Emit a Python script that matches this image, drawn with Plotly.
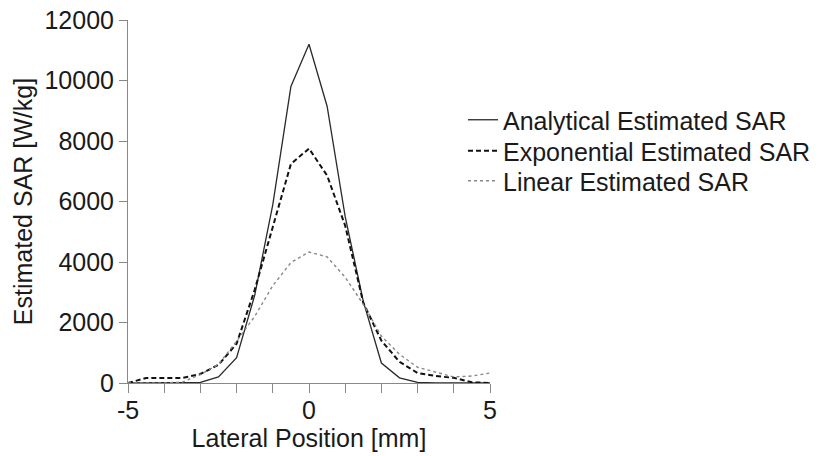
import plotly.graph_objects as go

x_mm = [-5, -4.5, -4, -3.5, -3, -2.5, -2, -1.5, -1, -0.5, 0, 0.5, 1, 1.5, 2, 2.5, 3, 3.5, 4, 4.5, 5]
analytical = [0, 0, 0, 5, 20, 200, 840, 2900, 5900, 9800, 11200, 9150, 5500, 2700, 660, 170, 20, 0, 0, 0, 0]
exponential = [0, 165, 165, 165, 300, 600, 1300, 3080, 5160, 7240, 7750, 6860, 5200, 2650, 1400, 700, 330, 230, 170, 25, 0]
linear = [0, 0, 0, 30, 280, 620, 1380, 2200, 3220, 3980, 4330, 4170, 3500, 2600, 1550, 950, 520, 360, 200, 230, 330]

series_names = ["Analytical Estimated SAR", "Exponential Estimated SAR", "Linear Estimated SAR"]
x_tick_vals = [-5, -4, -3, -2, -1, 0, 1, 2, 3, 4, 5]
x_tick_text = ["-5", "", "", "", "", "0", "", "", "", "", "5"]
y_tick_vals = [0, 2000, 4000, 6000, 8000, 10000, 12000]
y_tick_text = ["0", "2000", "4000", "6000", "8000", "10000", "12000"]

FONT = "Liberation Sans, Arial, sans-serif"
FS = 25

fig = go.Figure()
fig.add_trace(go.Scatter(x=x_mm, y=analytical, name=series_names[0], mode="lines", legend="legend",
                         line=dict(color="#2a2a2a", width=1.3, dash="solid")))
fig.add_trace(go.Scatter(x=x_mm, y=exponential, name=series_names[1], mode="lines", legend="legend2",
                         line=dict(color="#111111", width=2, dash="5px,3px")))
fig.add_trace(go.Scatter(x=x_mm, y=linear, name=series_names[2], mode="lines", legend="legend3",
                         line=dict(color="#888888", width=1.4, dash="dot")))

def leg(yc):
    return dict(x=463 / 828, xref="container", y=1 - yc / 456, yref="container",
                xanchor="left", yanchor="middle", font=dict(size=FS, family=FONT, color="#1a1a1a"),
                bgcolor="rgba(0,0,0,0)", itemwidth=30)

fig.update_layout(
    width=828, height=456,
    margin=dict(l=128, r=338, t=20, b=73, autoexpand=False),
    paper_bgcolor="white", plot_bgcolor="white",
    font=dict(family=FONT, size=FS, color="#1a1a1a"),
    showlegend=True,
    legend=leg(120), legend2=leg(151), legend3=leg(181),
    xaxis=dict(range=[-5, 5], tickvals=x_tick_vals, ticktext=x_tick_text, automargin=False,
               ticks="outside", ticklen=9, tickcolor="#888888", tickwidth=1,
               ticklabelstandoff=-4,
               showline=True, linecolor="#888888", linewidth=1, showgrid=False, zeroline=False,
               tickfont=dict(size=FS, family=FONT),
               title=dict(text="Lateral Position [mm]", font=dict(size=FS, family=FONT), standoff=0)),
    yaxis=dict(range=[0, 12000], tickvals=y_tick_vals, ticktext=y_tick_text, automargin=False,
               ticks="outside", ticklen=8, tickcolor="#888888", tickwidth=1,
               showline=True, linecolor="#888888", linewidth=1, showgrid=False, zeroline=False,
               tickfont=dict(size=FS, family=FONT),
               title=dict(text="Estimated SAR [W/kg]", font=dict(size=FS, family=FONT), standoff=4)),
)

fig.write_html("out.html", config={"displayModeBar": False},
               post_script="document.body.style.margin='0';document.body.style.overflow='hidden';")
